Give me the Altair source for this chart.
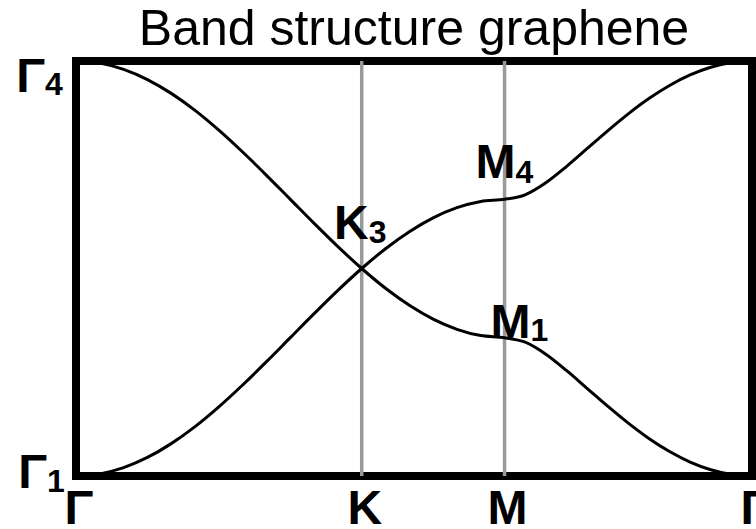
import altair as alt
import pandas as pd

# Path through the Brillouin zone: Γ → K → M → Γ (in units of 1/a)
sym_names = ["Γ", "K", "M", "Γ"]
sym_pos = [0.0, 4.189, 6.283, 9.911]

k_path = [
    0.000, 0.349, 0.698, 1.047, 1.396, 1.745, 2.094, 2.443, 2.793, 3.142, 3.491, 3.840, 4.189,
    4.538, 4.887, 5.236, 5.585, 5.934, 6.283,
    6.585, 6.888, 7.190, 7.492, 7.795, 8.097, 8.399, 8.702, 9.004, 9.306, 9.609, 9.911,
]

# Energy (units of t) of the branch running Γ4 → K3 → M1 → Γ1
band_falling = [
    3.000, 2.970, 2.879, 2.732, 2.532, 2.286, 2.000, 1.684, 1.347, 1.000, 0.653, 0.316, 0.000,
    -0.286, -0.532, -0.732, -0.879, -0.970, -1.000,
    -1.066, -1.239, -1.474, -1.732, -1.991, -2.236, -2.457, -2.646, -2.798, -2.909, -2.977, -3.000,
]

# Energy of the branch running Γ1 → K3 → M4 → Γ4
band_rising = [
    -3.000, -2.970, -2.879, -2.732, -2.532, -2.286, -2.000, -1.684, -1.347, -1.000, -0.653, -0.316, 0.000,
    0.286, 0.532, 0.732, 0.879, 0.970, 1.000,
    1.066, 1.239, 1.474, 1.732, 1.991, 2.236, 2.457, 2.646, 2.798, 2.909, 2.977, 3.000,
]

# Labelled points: irreducible representation at each high-symmetry point
point_names = ["Γ", "Γ", "K", "M", "M"]
point_subs = ["4", "1", "3", "4", "1"]
point_k = [sym_pos[0], sym_pos[0], sym_pos[1], sym_pos[2], sym_pos[2]]
point_e = [3.0, -3.0, 0.0, 1.0, -1.0]

FONT = "Liberation Sans"
MAIN_SIZE = 48
SUB_SIZE = 32

bands = pd.concat([
    pd.DataFrame({"k": k_path, "E": band_falling, "band": "falling"}),
    pd.DataFrame({"k": k_path, "E": band_rising, "band": "rising"}),
], ignore_index=True)

e_min, e_max = min(band_falling), max(band_falling)
sym = pd.DataFrame({"name": sym_names, "k": sym_pos, "E": [e_min] * len(sym_pos)})
inner_sym = sym.iloc[1:-1].reset_index(drop=True)

x_scale = alt.Scale(domain=[sym_pos[0], sym_pos[-1]], nice=False, zero=False)
y_scale = alt.Scale(domain=[e_min, e_max], nice=False, zero=False)
X = alt.X("k:Q", scale=x_scale, axis=None)
Y = alt.Y("E:Q", scale=y_scale, axis=None)

guides = alt.Chart(inner_sym).mark_rule(color="#9a9a9a", strokeWidth=3.5).encode(x=X)

lines = alt.Chart(bands).mark_line(
    color="black", strokeWidth=3, interpolate="monotone"
).encode(x=X, y=Y, detail="band:N")

k_labels = alt.Chart(sym).mark_text(
    font=FONT, fontSize=MAIN_SIZE, fontWeight="bold", baseline="alphabetic",
    align="center", dx=3, dy=48, color="black",
).encode(x=X, y=Y, text="name:N")

# (dx, dy) of the letter and of its subscript, relative to the labelled point
offsets = [
    ((-31, 31), (-31, 34)),
    ((-29, 12), (-29, 16)),
    ((7, -30), (7, -26)),
    ((11, -21), (11, -16)),
    ((26, 0), (26, 3)),
]

point_layers = []
for i, ((mdx, mdy), (sdx, sdy)) in enumerate(offsets):
    row = pd.DataFrame({
        "name": [point_names[i]], "sub": [point_subs[i]],
        "k": [point_k[i]], "E": [point_e[i]],
    })
    point_layers.append(
        alt.Chart(row).mark_text(
            font=FONT, fontSize=MAIN_SIZE, fontWeight="bold", baseline="alphabetic",
            align="right", dx=mdx, dy=mdy, color="black",
        ).encode(x=X, y=Y, text="name:N")
    )
    point_layers.append(
        alt.Chart(row).mark_text(
            font=FONT, fontSize=SUB_SIZE, fontWeight="bold", baseline="alphabetic",
            align="left", dx=sdx, dy=sdy, color="black",
        ).encode(x=X, y=Y, text="sub:N")
    )

chart = alt.layer(guides, lines, k_labels, *point_layers).properties(
    width=676,
    height=415,
    title=alt.Title(
        "Band structure graphene", font=FONT, fontSize=50, fontWeight="normal",
        color="black", anchor="middle", offset=14, dy=15,
    ),
    autosize=alt.AutoSizeParams(type="none"),
    padding={"left": 76, "top": 61, "right": 4, "bottom": 53},
).configure(
    background="white",
    view=alt.ViewConfig(stroke="black", strokeWidth=8),
)

chart.save("out.html", embed_options={"renderer": "svg", "actions": False})
